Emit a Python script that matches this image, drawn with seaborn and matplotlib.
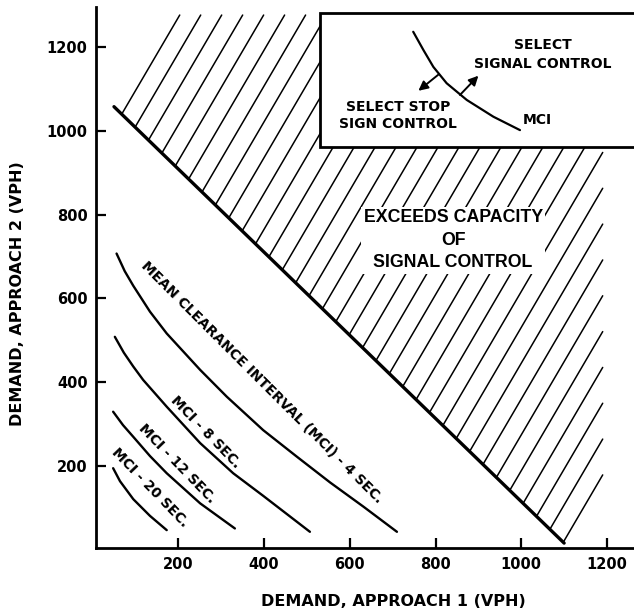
"""Stop sign vs. signal control warrant chart (mean clearance interval curves)."""

import matplotlib

matplotlib.use("Agg")

import matplotlib.pyplot as plt
import numpy as np
import pandas as pd
import seaborn as sns
from matplotlib.patches import Rectangle

# --- data ------------------------------------------------------------------
mci4_x = [56, 75, 95, 134, 173, 251, 313, 398, 476, 554, 632, 710]
mci4_y = [707, 665, 630, 568, 516, 429, 365, 285, 222, 160, 102, 42]
mci8_x = [52, 73, 95, 118, 173, 251, 328, 398, 507]
mci8_y = [508, 470, 437, 405, 341, 254, 182, 128, 42]
mci12_x = [48, 71, 95, 134, 173, 251, 332]
mci12_y = [329, 297, 269, 223, 182, 110, 50]
mci20_x = [48, 64, 95, 134, 173]
mci20_y = [194, 163, 120, 80, 46]

capacity_x = [50, 1100]
capacity_y = [1058, 15]

inset_x = [748, 772, 795, 826, 873, 935, 997]
inset_y = [1237, 1193, 1153, 1114, 1074, 1034, 1002]

x_ticks = [200, 400, 600, 800, 1000, 1200]
y_ticks = [200, 400, 600, 800, 1000, 1200]

curve_labels = ["MEAN CLEARANCE INTERVAL (MCI) - 4 SEC.", "MCI - 8 SEC.", "MCI - 12 SEC.", "MCI - 20 SEC."]
curve_label_x = [395, 263, 197, 134]
curve_label_y = [400, 281, 204, 147]
curve_label_rot = [-45, -46, -46, -46]

# hatching of the over-capacity zone
HATCH_START, HATCH_END, HATCH_COUNT = 68, 1098, 34
HATCH_SLOPE, HATCH_XMAX, HATCH_YMAX = 1.75, 1190, 1277


def build_curves() -> pd.DataFrame:
    frames = []
    for name, xs, ys in [("4", mci4_x, mci4_y), ("8", mci8_x, mci8_y),
                         ("12", mci12_x, mci12_y), ("20", mci20_x, mci20_y)]:
        frames.append(pd.DataFrame({"x": xs, "y": ys, "mci": name}))
    return pd.concat(frames, ignore_index=True)


sns.set_theme(style="ticks")
plt.rcParams["font.family"] = ["DejaVu Sans"]
plt.rcParams["text.color"] = "black"
plt.rcParams["axes.labelcolor"] = "black"

fig = plt.figure(figsize=(6.34, 6.12), dpi=100)
ax = fig.add_axes([0.1514, 0.1041, 0.8486, 0.885])

curves = build_curves()
sns.lineplot(data=curves, x="x", y="y", units="mci", estimator=None, sort=False,
             color="black", linewidth=1.7, ax=ax, zorder=2)

sns.lineplot(x=capacity_x, y=capacity_y, color="black", linewidth=2.4, ax=ax, zorder=2)

# diagonal hatch lines rising from the capacity line
for x0 in np.linspace(HATCH_START, HATCH_END, HATCH_COUNT):
    y0 = np.interp(x0, capacity_x, capacity_y)
    x1 = min(HATCH_XMAX, x0 + (HATCH_YMAX - y0) / HATCH_SLOPE)
    y1 = y0 + HATCH_SLOPE * (x1 - x0)
    ax.plot([x0, x1], [y0, y1], color="black", linewidth=1.1, zorder=1)

ax.text(841, 739, "EXCEEDS CAPACITY\nOF\nSIGNAL CONTROL", ha="center", va="center",
        fontsize=12.8, family="Liberation Sans", fontweight="bold", linespacing=1.4, zorder=3,
        bbox=dict(boxstyle="square,pad=0.15", fc="white", ec="none"))

for text, tx, ty, rot in zip(curve_labels, curve_label_x, curve_label_y, curve_label_rot):
    ax.text(tx, ty, text, ha="center", va="center", rotation=rot, rotation_mode="anchor",
            fontsize=10, fontweight="bold", zorder=3)

# inset legend box
ax.add_patch(Rectangle((531, 962), 900, 319, facecolor="white", edgecolor="black",
                       linewidth=2, zorder=4, clip_on=False))
ax.plot(inset_x, inset_y, color="black", linewidth=1.6, zorder=5, clip_on=False)
ax.annotate("", xy=(760, 1096), xytext=(806, 1134), zorder=5,
            arrowprops=dict(arrowstyle="-|>", color="black", lw=1.4, mutation_scale=14,
                            shrinkA=0, shrinkB=0))
ax.annotate("", xy=(900, 1132), xytext=(857, 1086), zorder=5,
            arrowprops=dict(arrowstyle="-|>", color="black", lw=1.4, mutation_scale=14,
                            shrinkA=0, shrinkB=0))
ax.text(1051, 1183, "SELECT\nSIGNAL CONTROL", ha="center", va="center", fontsize=10,
        fontweight="bold", linespacing=1.4, zorder=6, clip_on=False)
ax.text(713, 1037, "SELECT STOP\nSIGN CONTROL", ha="center", va="center", fontsize=10,
        fontweight="bold", linespacing=1.3, zorder=6)
ax.text(1004, 1026, "MCI", ha="left", va="center", fontsize=10, fontweight="bold", zorder=6)

ax.set_xlim(8, 1263)
ax.set_ylim(2.6, 1297)
ax.set_xticks(x_ticks)
ax.set_yticks(y_ticks)
ax.tick_params(direction="in", length=7, width=1.6, colors="black", labelsize=10.5, pad=6)
for lbl in ax.get_xticklabels() + ax.get_yticklabels():
    lbl.set_fontweight("bold")

sns.despine(ax=ax)
for side in ["left", "bottom"]:
    ax.spines[side].set_linewidth(2)
    ax.spines[side].set_color("black")

ax.set_xlabel("DEMAND, APPROACH 1 (VPH)", fontsize=11.5, fontweight="bold")
ax.set_ylabel("DEMAND, APPROACH 2 (VPH)", fontsize=11.5, fontweight="bold")
ax.xaxis.set_label_coords(0.552, -0.084)
ax.yaxis.set_label_coords(-0.132, 0.47)
ax.grid(False)

fig.savefig("out.png", dpi=100)
